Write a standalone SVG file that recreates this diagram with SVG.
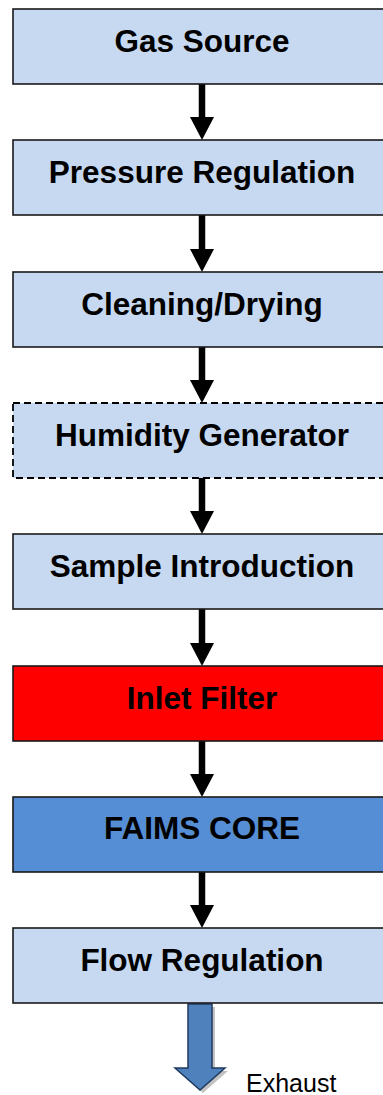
<svg xmlns="http://www.w3.org/2000/svg" width="383" height="1095" viewBox="0 0 383 1095">
<style>
.box{fill:#C6D9F1;stroke:#1a1a1a;stroke-width:1.6}
.lbl{font-family:"Liberation Sans",Arial,sans-serif;font-weight:bold;font-size:31.5px;fill:#000;text-anchor:middle}
.shaft{stroke:#000;stroke-width:6.5;fill:none}
.head{fill:#000}
</style>
<rect width="383" height="1095" fill="#fff"/>
<g id="connectors">
<line class="shaft" x1="202" y1="84" x2="202" y2="118"/><polygon class="head" points="190,117 214,117 202,140"/>
<line class="shaft" x1="202" y1="215" x2="202" y2="250"/><polygon class="head" points="190,249 214,249 202,272"/>
<line class="shaft" x1="202" y1="347" x2="202" y2="381"/><polygon class="head" points="190,380 214,380 202,403"/>
<line class="shaft" x1="202" y1="478" x2="202" y2="512"/><polygon class="head" points="190,511 214,511 202,534"/>
<line class="shaft" x1="202" y1="609" x2="202" y2="644"/><polygon class="head" points="190,643 214,643 202,666"/>
<line class="shaft" x1="202" y1="741" x2="202" y2="775"/><polygon class="head" points="190,774 214,774 202,797"/>
<line class="shaft" x1="202" y1="872" x2="202" y2="906"/><polygon class="head" points="190,905 214,905 202,928"/>
<g id="exhaust-arrow">
<polygon points="191,1007 215,1007 215,1071 228,1071 203,1093 178,1071 191,1071" fill="#9a9a9a" opacity="0.6"/>
<polygon points="188,1004 212,1004 212,1068 225,1068 200,1090 175,1068 188,1068" fill="#4F81BD" stroke="#1F3A5F" stroke-width="1.5"/>
</g>
</g>
<g id="gas-source"><rect class="box" x="13" y="9" width="380" height="75"/><text class="lbl" x="202" y="52">Gas Source</text></g>
<g id="pressure-regulation"><rect class="box" x="13" y="140" width="380" height="75"/><text class="lbl" x="202" y="183">Pressure Regulation</text></g>
<g id="cleaning-drying"><rect class="box" x="13" y="272" width="380" height="75"/><text class="lbl" x="202" y="315">Cleaning/Drying</text></g>
<g id="humidity-generator"><rect class="box" x="13" y="403" width="380" height="75" stroke-dasharray="7,4" style="stroke:#000;stroke-width:1.8"/><text class="lbl" x="202" y="446">Humidity Generator</text></g>
<g id="sample-introduction"><rect class="box" x="13" y="534" width="380" height="75"/><text class="lbl" x="202" y="577">Sample Introduction</text></g>
<g id="inlet-filter"><rect class="box" x="13" y="666" width="380" height="75" style="fill:#FF0000"/><text class="lbl" x="202" y="709">Inlet Filter</text></g>
<g id="faims-core"><rect class="box" x="13" y="797" width="380" height="75" style="fill:#558ED5"/><text class="lbl" x="202" y="839">FAIMS CORE</text></g>
<g id="flow-regulation"><rect class="box" x="13" y="928" width="380" height="75"/><text class="lbl" x="202" y="971">Flow Regulation</text></g>
<g id="exhaust-label"><text x="246" y="1092" font-family="Liberation Sans,Arial,sans-serif" font-size="25" fill="#000">Exhaust</text></g>
</svg>
